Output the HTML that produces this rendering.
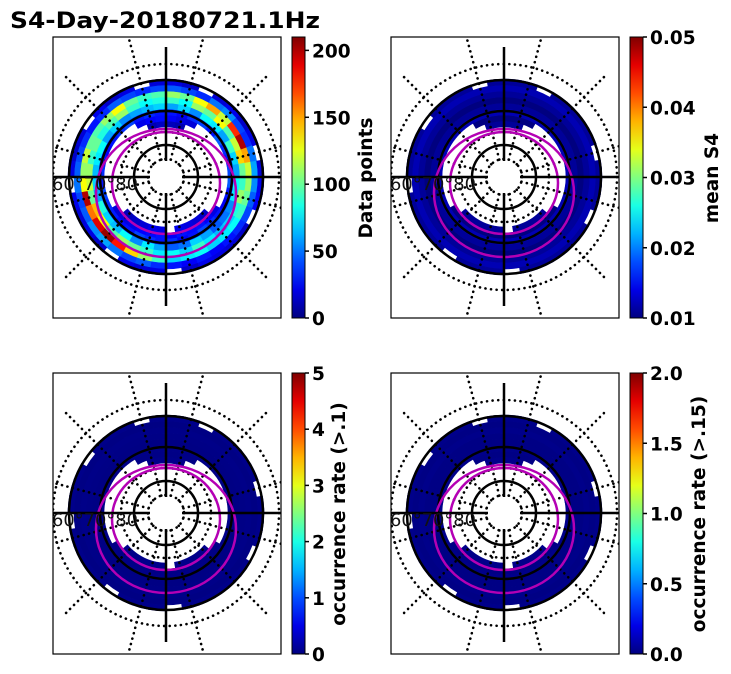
<!DOCTYPE html>
<html><head><meta charset="utf-8"><style>
body{margin:0;background:#fff}
svg{display:block;font-family:"DejaVu Sans","Liberation Sans",sans-serif}
</style></head><body>
<svg id="fig" width="731" height="674" viewBox="0 0 731 674">
<text x="10" y="28" font-size="22" font-weight="bold" textLength="310" lengthAdjust="spacingAndGlyphs">S4-Day-20180721.1Hz</text>
</svg>
<script>
// ring radii boundaries (data rings, inner to outer) and 36 sectors (clockwise from top)
const ringEdges = [50,56,62,68,74,80,86,92,98];
// Data points matrix (rows = rings inner->outer, 36 sectors); 0 = no data
const countRows = [
 [12,10,0,0,0,0,0,0,0,0,0,0,0,15,18,20,22,0,20,22,18,15,12,0,0,0,0,0,0,0,0,0,0,0,10,14],
 [25,20,18,0,0,0,0,0,0,0,0,0,20,25,30,28,30,25,30,28,26,22,20,18,0,0,0,0,0,0,0,0,0,22,26,28],
 [30,25,35,40,30,45,35,30,40,45,30,25,30,35,40,30,25,35,30,35,40,30,28,32,35,40,30,35,30,25,30,35,40,30,35,30],
 [60,70,55,80,75,60,90,70,60,80,75,55,50,45,60,70,50,45,60,75,55,80,65,70,85,60,70,65,75,80,60,70,55,60,65,70],
 [90,80,110,100,130,95,120,140,100,90,110,85,70,65,75,90,70,80,75,90,100,110,95,130,145,100,120,110,90,100,85,95,110,90,80,85],
 [110,100,130,150,120,175,200,150,120,110,100,90,80,75,70,80,75,70,90,110,140,180,205,190,160,200,130,110,120,100,95,110,130,100,90,95],
 [45,40,35,50,55,40,35,50,60,55,45,40,35,30,25,30,25,30,35,45,40,50,60,55,45,40,50,45,40,35,30,35,45,40,35,40],
 [20,15,0,18,22,15,20,0,18,22,25,0,15,18,20,22,15,0,20,18,22,0,15,20,18,22,0,20,15,18,0,22,15,20,0,18]
];
// other panels: mean S4, occurrence rates (near minimum everywhere)
const meanS4Value = [0.011,0.010,0.012,0.011,0.010,0.011,0.012,0.011];
const occ1Value = [0.05,0.03,0.04,0.02,0.03,0.04,0.02,0.05];
const occ15Value = [0.02,0.01,0.02,0.01,0.01,0.02,0.01,0.02];
const cb1Ticks = [0,50,100,150,200], cb1Labels=["0","50","100","150","200"];
const cb2Ticks = [0.01,0.02,0.03,0.04,0.05], cb2Labels=["0.01","0.02","0.03","0.04","0.05"];
const cb3Ticks = [0,1,2,3,4,5], cb3Labels=["0","1","2","3","4","5"];
const cb4Ticks = [0,0.5,1,1.5,2], cb4Labels=["0.0","0.5","1.0","1.5","2.0"];

const NS="http://www.w3.org/2000/svg", fig=document.getElementById('fig');
function mk(t,a,p){const e=document.createElementNS(NS,t);for(const k in a)e.setAttribute(k,a[k]);(p||fig).appendChild(e);return e;}
function jet(v){v=Math.max(0,Math.min(1,v));
 const r=Math.min(Math.max(Math.min(4*v-1.5,-4*v+4.5),0),1),g=Math.min(Math.max(Math.min(4*v-0.5,-4*v+3.5),0),1),b=Math.min(Math.max(Math.min(4*v+0.5,-4*v+2.5),0),1);
 return `rgb(${Math.round(r*255)},${Math.round(g*255)},${Math.round(b*255)})`;}
function pt(cx,cy,r,a){const t=a*Math.PI/180;return [cx+r*Math.sin(t),cy-r*Math.cos(t)];}
function sector(cx,cy,r0,r1,a0,a1){const p=[pt(cx,cy,r0,a0),pt(cx,cy,r1,a0),pt(cx,cy,r1,a1),pt(cx,cy,r0,a1)];
 return `M${p[0]}L${p[1]}A${r1},${r1} 0 0 1 ${p[2]}L${p[3]}A${r0},${r0} 0 0 0 ${p[0]}Z`;}
const DOT={stroke:'#000','stroke-width':2.6,'stroke-dasharray':'0.1 5.5','stroke-linecap':'round',fill:'none'};

function panel(ox,oy,valFn,vmin,vmax,ticks,labels,cbLabel,lblX,lblY,name){
 const g=mk('g',{});
 const bx=53+ox,by=37+oy,bw=228,bh=281,cx=166+ox,cy=177+oy;
 mk('clipPath',{id:'c'+name},g);
 mk('rect',{x:bx,y:by,width:bw,height:bh},g.lastChild);
 const inner=mk('g',{'clip-path':`url(#c${name})`},g);
 
 
 for(let i=0;i<countRows.length;i++)for(let j=0;j<36;j++){
  if(!countRows[i][j])continue;
  const v=valFn(i,j);
  const s=mk('path',{d:sector(cx,cy,ringEdges[i],ringEdges[i+1],j*10,j*10+10.3),fill:jet((v-vmin)/(vmax-vmin)),stroke:jet((v-vmin)/(vmax-vmin)),'stroke-width':0.6},inner);
  
  
 }
 // dotted grid
 [18,45,113].forEach(r=>mk('circle',Object.assign({cx,cy,r},DOT),inner));
 for(let a=15;a<360;a+=30){const p0=pt(cx,cy,18,a),p1=pt(cx,cy,145,a);
  mk('line',Object.assign({x1:p0[0],y1:p0[1],x2:p1[0],y2:p1[1]},DOT),inner);}
 // solid circles
 [32,66,97].forEach(r=>mk('circle',{cx,cy,r,fill:'none',stroke:'#000','stroke-width':2.5},inner));
 // magenta curves
 mk('ellipse',{cx,cy:cy+6,rx:54,ry:51,fill:'none',stroke:'#b400b4','stroke-width':2.5},inner);
 mk('ellipse',{cx,cy:cy+16,rx:70,ry:64,fill:'none',stroke:'#b400b4','stroke-width':2.5},inner);
 // crosshair
 mk('line',{x1:cx,y1:by+10,x2:cx,y2:cy-16,stroke:'#000','stroke-width':2.5},inner);
 mk('line',{x1:cx,y1:cy+16,x2:cx,y2:by+bh-12,stroke:'#000','stroke-width':2.5},inner);
 mk('line',{x1:bx,y1:cy,x2:cx-16,y2:cy,stroke:'#000','stroke-width':2.5},inner);
 mk('line',{x1:cx+16,y1:cy,x2:bx+bw,y2:cy,stroke:'#000','stroke-width':2.5},inner);
 const t=mk('text',{x:bx-1,y:cy+13,'font-size':18,fill:'#111',textLength:86,lengthAdjust:'spacingAndGlyphs'},g);t.textContent='60°70°80';
 
 const fr=mk('rect',{x:bx,y:by,width:bw,height:bh,fill:'none',stroke:'#000','stroke-width':1.2},g);
 
 // colorbar
 const cbx=292+ox,cbw=13;
 const gid='grad'+name;const lg=mk('linearGradient',{id:gid,x1:0,y1:1,x2:0,y2:0},g);
 for(let k=0;k<=10;k++)mk('stop',{offset:k/10,'stop-color':jet(k/10)},lg);
 const cb=mk('rect',{x:cbx,y:by,width:cbw,height:bh,fill:`url(#${gid})`,stroke:'#000','stroke-width':1},g);
 
 ticks.forEach((tv,k)=>{const y=by+bh-(tv-vmin)/(vmax-vmin)*bh;
  mk('line',{x1:cbx+cbw,y1:y,x2:cbx+cbw+4,y2:y,stroke:'#000','stroke-width':1.5},g);
  const tt=mk('text',{x:cbx+cbw+7,y:y+7,'font-size':18.5,'font-weight':'bold'},g);tt.textContent=labels[k];
  });
 const cl=mk('text',{x:lblX,y:lblY,'font-size':18.5,'font-weight':'bold','text-anchor':'middle',transform:`rotate(-90 ${lblX} ${lblY})`},g);
 cl.textContent=cbLabel;
}
panel(0,0,(i,j)=>countRows[i][j],0,210,cb1Ticks,cb1Labels,'Data points',372,178,'panel-data-points');
panel(338,0,(i,j)=>meanS4Value[i],0.01,0.05,cb2Ticks,cb2Labels,'mean S4',718,178,'panel-mean-s4');
panel(0,336,(i,j)=>occ1Value[i],0,5,cb3Ticks,cb3Labels,'occurrence rate (>.1)',345,514,'panel-occurrence-01');
panel(338,336,(i,j)=>occ15Value[i],0,2,cb4Ticks,cb4Labels,'occurrence rate (>.15)',705,514,'panel-occurrence-015');
</script>
</body></html>
